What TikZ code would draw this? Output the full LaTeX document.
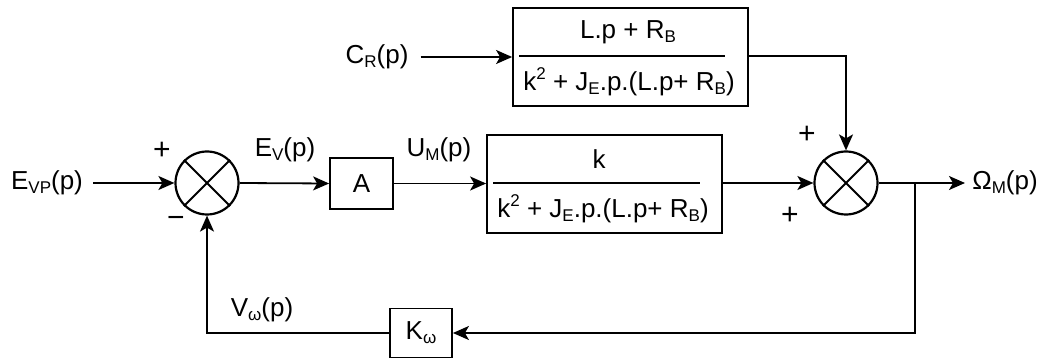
\documentclass[tikz,border=0pt]{standalone}
\usepackage{fontspec}
\setmainfont{Liberation Sans}
\usetikzlibrary{arrows.meta,calc}
\newcommand\sbs[1]{\raisebox{-0.3ex}{\fontsize{17}{17}\selectfont #1}}
\newcommand\sps[1]{\raisebox{0.8ex}{\fontsize{17}{17}\selectfont #1}}
\begin{document}
\begin{tikzpicture}[x=1pt,y=-1pt,
  every node/.style={font=\fontsize{26}{28}\selectfont, inner sep=0pt},
  blk/.style={draw, line width=1.8pt},
  sumc/.style={draw, circle, line width=2.2pt, minimum size=63pt},
  sig/.style={line width=1.8pt},
  arr/.style={sig, -{Stealth[length=16pt,width=14pt,inset=4pt]}},
  lbl/.style={anchor=center},
  sgn/.style={font=\fontsize{30}{30}\selectfont}]
\useasboundingbox (0,0) rectangle (1050,358);
% summing junctions
\node[sumc] (s1) at (207,183) {};
\draw[line width=2pt] (s1.north west) -- (s1.south east) (s1.north east) -- (s1.south west);
\node[sumc] (s2) at (846,183) {};
\draw[line width=2pt] (s2.north west) -- (s2.south east) (s2.north east) -- (s2.south west);
% blocks
\node[blk, minimum width=235pt, minimum height=98pt] (top) at (630.5,57) {};
\node (topn) at (628,32) {L.p + R\sbs{B}};
\node (topd) at (629,82) {k\sps{2} + J\sbs{E}.p.(L.p+ R\sbs{B})};
\coordinate (tl1) at (519,56);
\coordinate (tl2) at (725,56);
\draw[sig] (tl1) -- (tl2);
\node[blk, minimum width=235pt, minimum height=98pt] (mid) at (604.5,184) {};
\node (midn) at (599,159) {k};
\node (midd) at (603,209) {k\sps{2} + J\sbs{E}.p.(L.p+ R\sbs{B})};
\coordinate (ml1) at (493,183);
\coordinate (ml2) at (700,183);
\draw[sig] (ml1) -- (ml2);
\node[blk, minimum width=63pt, minimum height=51pt] (A) at (361.5,183.5) {A};
\node[blk, minimum width=62pt, minimum height=49pt] (K) at (421,333) {K\sbs{ω}};
% labels
\node[lbl] (evp) at (47,183) {E\sbs{VP}(p)};
\node[lbl] (cr) at (377,57) {C\sbs{R}(p)};
\node[lbl] (ev) at (285,150) {E\sbs{V}(p)};
\node[lbl] (um) at (439,150) {U\sbs{M}(p)};
\node[lbl] (vw) at (262,310) {V\sbs{ω}(p)};
\node[lbl] (om) at (1005,183) {Ω\sbs{M}(p)};
\node[lbl,sgn] (p1) at (162,151) {+};
\node[lbl,sgn] (m1) at (176,222) {−};
\node[lbl,sgn] (p2) at (807,135) {+};
\node[lbl,sgn] (p3) at (790,216) {+};
% coordinates
\coordinate (out) at (965,183);
\coordinate (br) at (915,183);
\coordinate (tout) at (748,56);
% connectors
\draw[arr] ($(evp.east)+(10,0)$) -- (s1.west);
\draw[arr] (s1.east) -- (A.west);
\draw[arr] (A.east) -- (mid.west |- A.east);
\draw[arr] (mid.east |- s2.west) -- (s2.west);
\draw[arr] ($(cr.east)+(12,0)$) -- (top.west |- cr.east);
\draw[arr] (tout) -| (s2.north);
\draw[arr] (s2.east) -- (out);
\draw[arr] (br) |- (K.east);
\draw[arr] (K.west) -| (s1.south);
\end{tikzpicture}
\end{document}
